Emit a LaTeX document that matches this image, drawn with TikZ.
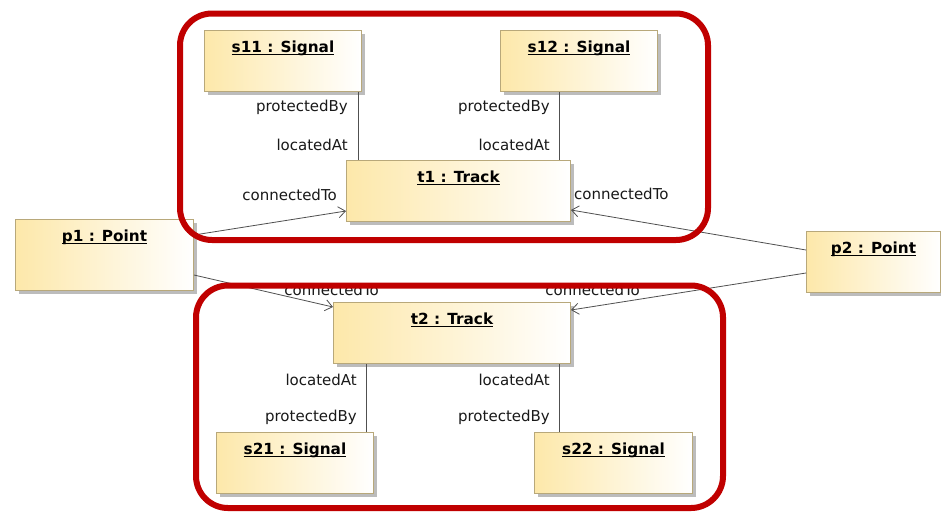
\documentclass[tikz,border=0pt]{standalone}
\usepackage{fontspec}
\setmainfont{DejaVu Sans}
\usetikzlibrary{arrows.meta,shadows,calc}

\definecolor{objfill}{RGB}{253,232,170}
\definecolor{objline}{RGB}{184,168,122}
\definecolor{objshadow}{RGB}{188,188,188}
\definecolor{linkgray}{RGB}{80,80,80}
\definecolor{groupred}{RGB}{192,0,0}

% bold object title with a flat underline just under the baseline
\newcommand\objtitle[1]{\setbox0=\hbox{\bfseries #1}\rlap{\rule[-2.6pt]{\wd0}{1.1pt}}\box0}

\begin{document}
\begin{tikzpicture}[x=1pt,y=-1pt,
  obj/.style={draw=objline, line width=1pt, left color=objfill, right color=white,
    anchor=north west, inner xsep=0pt, inner ysep=0pt, text height=22pt, text depth=#1,
    align=center, font=\fontsize{15.3}{18}\selectfont,
    drop shadow={shadow xshift=3pt, shadow yshift=-3pt, fill=objshadow, opacity=1}},
  obj/.default=39pt,
  assoc/.style={draw=linkgray, line width=0.8pt},
  link/.style={assoc, -{Straight Barb[length=7pt,width=11pt]}},
  role/.style={font=\fontsize{15}{18}\selectfont, text=black!90, inner sep=0pt},
  group/.style={draw=groupred, line width=6pt, rounded corners=32pt}]

\clip (0,0) rectangle (941,512);
\fill[white] (0,0) rectangle (941,512);

% objects
\node[obj, minimum width=157pt] (s11) at (204,30) {\objtitle{s11 : Signal}};
\node[obj, minimum width=157pt] (s12) at (500,30) {\objtitle{s12 : Signal}};
\node[obj, minimum width=224pt] (t1) at (346,160) {\objtitle{t1 : Track}};
\node[obj=49pt, minimum width=178pt] (p1) at (15,219) {\objtitle{p1 : Point}};
\node[obj, minimum width=134pt] (p2) at (806,231) {\objtitle{p2 : Point}};
\node[obj, minimum width=237pt] (t2) at (333,302) {\objtitle{t2 : Track}};
\node[obj, minimum width=157pt] (s21) at (216,432) {\objtitle{s21 : Signal}};
\node[obj, minimum width=158pt] (s22) at (534,432) {\objtitle{s22 : Signal}};

% signal -- track links
\coordinate (a1) at ($(s11.south east)+(-4,0)$);
\draw[assoc] (a1) -- (a1 |- t1.north);
\node[role, anchor=base east] (a1p) at ($(a1)+(-10,19)$) {protectedBy};
\node[role, anchor=base east] (a1l) at ($(a1 |- t1.north)+(-10,-10)$) {locatedAt};

\coordinate (a2) at ($(t1.north east)+(-12,0)$);
\draw[assoc] (a2 |- s12.south) -- (a2);
\node[role, anchor=base east] (a2p) at ($(a2 |- s12.south)+(-9,19)$) {protectedBy};
\node[role, anchor=base east] (a2l) at ($(a2)+(-9,-10)$) {locatedAt};

\coordinate (a3) at ($(s21.north east)+(-8,0)$);
\draw[assoc] (a3 |- t2.south) -- (a3);
\node[role, anchor=base east] (a3l) at ($(a3 |- t2.south)+(-9,21)$) {locatedAt};
\node[role, anchor=base east] (a3p) at ($(a3)+(-9,-11)$) {protectedBy};

\coordinate (a4) at ($(t2.south east)+(-12,0)$);
\draw[assoc] (a4) -- (a4 |- s22.north);
\node[role, anchor=base east] (a4l) at ($(a4)+(-9,21)$) {locatedAt};
\node[role, anchor=base east] (a4p) at ($(a4 |- s22.north)+(-9,-11)$) {protectedBy};

% point -- track links
\coordinate (e1) at ($(t1.north west)+(0,51)$);
\draw[link] ($(p1.north east)+(0,16)$) -- (e1);
\node[role, anchor=base east] (c1) at ($(e1)+(-9,-11)$) {connectedTo};

\coordinate (e2) at ($(t1.north east)+(0,50)$);
\draw[link] ($(p2.north west)+(0,19)$) -- (e2);
\node[role, anchor=base west] (c2) at ($(e2)+(3,-11)$) {connectedTo};

\coordinate (e3) at ($(t2.north west)+(0,5)$);
\draw[link] ($(p1.north east)+(0,56)$) -- (e3);
\node[role, anchor=base east] (c3) at ($(e3)+(46,-12)$) {connectedTo};

\coordinate (e4) at ($(t2.north east)+(0,8)$);
\draw[link] ($(p2.north west)+(0,42)$) -- (e4);
\node[role, anchor=base east] (c4) at ($(e4)+(69,-15)$) {connectedTo};

% grouping frames
\draw[group] (180,13.5) rectangle (708,240);
\draw[group] (196,285.5) rectangle (723,508);
\end{tikzpicture}
\end{document}
